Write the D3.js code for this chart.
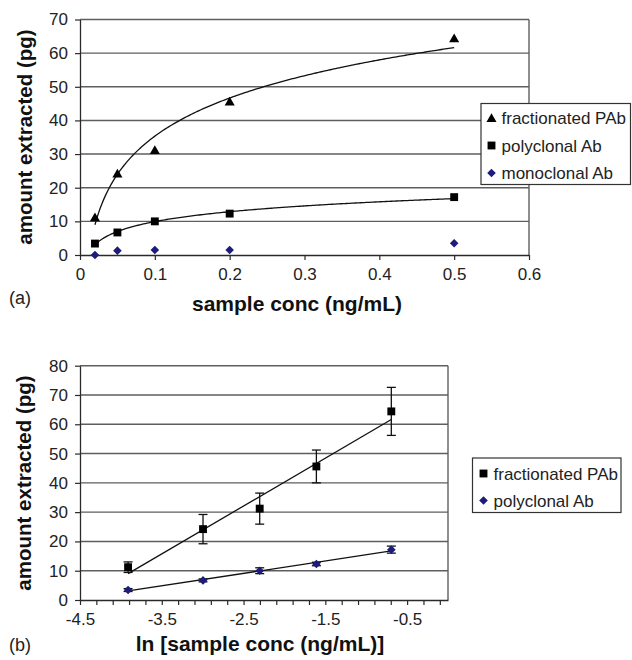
<!DOCTYPE html>
<html>
<head>
<meta charset="utf-8">
<script src="https://cdn.jsdelivr.net/npm/d3@7"></script>
<style>
  html, body { margin: 0; padding: 0; background: #fff; }
  svg, svg text { font-family: "Liberation Sans", Arial, Helvetica, sans-serif; }
  svg { display: block; }
</style>
</head>
<body>
<svg id="chart" width="632" height="660"></svg>
<script>
// Sample concentrations (ng/mL)
const conc = [0.02, 0.05, 0.1, 0.2, 0.5];
// Amount extracted (pg)
const fractionatedPAb = [11.2, 24.2, 31.2, 45.6, 64.4];
const polyclonalAb    = [3.4, 6.7, 10.0, 12.3, 17.2];
const monoclonalAb    = [0.0, 1.3, 1.5, 1.5, 3.5];
// Standard deviations used for the error bars in panel (b)
const fractionatedErr = [1.8, 5.0, 5.3, 5.6, 8.2];
const polyclonalErr   = [0.5, 0.5, 1.0, 0.6, 1.2];

// Axis ticks
const ticksA_x = [0, 0.1, 0.2, 0.3, 0.4, 0.5, 0.6];
const ticksA_y = [0, 10, 20, 30, 40, 50, 60, 70];
const ticksB_x = d3.range(23).map(k => +(-4.5 + 0.2 * k).toFixed(1));
const labelsB_x = [-4.5, -3.5, -2.5, -1.5, -0.5];
const ticksB_y = [0, 10, 20, 30, 40, 50, 60, 70, 80];

const svg = d3.select("#chart");
const FONT = '"Liberation Sans", Arial, Helvetica, sans-serif';
const GRID = "#5e5e5e";
const AXIS = "#2a2a2a";
const NAVY = "#1c1c7a";

// least-squares fit y = m*x + c
function linFit(xs, ys) {
  const mx = d3.mean(xs), my = d3.mean(ys);
  const sxy = d3.sum(xs, (x, i) => (x - mx) * (ys[i] - my));
  const sxx = d3.sum(xs, x => (x - mx) * (x - mx));
  const m = sxy / sxx;
  return { m, c: my - m * mx };
}

const lnConc = conc.map(Math.log);
const fitFrac = linFit(lnConc, fractionatedPAb);
const fitPoly = linFit(lnConc, polyclonalAb);

// square rotated 45 degrees, half-diagonal r
const diamondPath = r => `M0,${-r}L${r},0L0,${r}L${-r},0Z`;

function marker(g, shape, x, y, color) {
  let d;
  if (shape === "dia") d = diamondPath(4.3);
  else if (shape === "tri") d = d3.symbol().type(d3.symbolTriangle).size(44)();
  else d = d3.symbol().type(d3.symbolSquare).size(62)();
  g.append("path")
    .attr("d", d)
    .attr("transform", `translate(${x},${y + (shape === "tri" ? 1 : 0)})`)
    .attr("fill", color);
}

function drawFrame(g, y, yTicks, left, right, top, bottom) {
  // horizontal gridlines
  g.append("g").selectAll("line").data(yTicks.filter(v => v > 0)).join("line")
    .attr("x1", left).attr("x2", right)
    .attr("y1", d => y(d)).attr("y2", d => y(d))
    .attr("stroke", GRID).attr("stroke-width", 1.4);
  // right border
  g.append("line").attr("x1", right).attr("x2", right).attr("y1", top).attr("y2", bottom)
    .attr("stroke", GRID).attr("stroke-width", 1.4);
}

function styleAxis(a) {
  a.attr("font-family", FONT);
  a.select(".domain").attr("stroke", AXIS).attr("stroke-width", 1.3);
  a.selectAll(".tick line").attr("stroke", AXIS).attr("stroke-width", 1.2);
  a.selectAll(".tick text").attr("fill", "#222").attr("font-size", 17).attr("font-family", FONT);
}

function title(g, x, y, rot, size, txt) {
  g.append("text")
    .attr("transform", `translate(${x},${y})${rot ? " rotate(-90)" : ""}`)
    .attr("text-anchor", "middle")
    .attr("font-size", size).attr("font-weight", "bold").attr("fill", "#111")
    .text(txt);
}

// ---------- Panel (a) ----------
{
  const L = 80, R = 529, T = 19.5, B = 255;
  const x = d3.scaleLinear().domain([0, 0.6]).range([L, R]);
  const y = d3.scaleLinear().domain([0, 70]).range([B, T]);
  const g = svg.append("g");
  drawFrame(g, y, ticksA_y, L, R, T, B);

  const ax = g.append("g").attr("transform", `translate(0,${B})`)
    .call(d3.axisBottom(x).tickValues(ticksA_x).tickSize(5).tickPadding(8).tickSizeOuter(0)
      .tickFormat(d => d === 0 ? "0" : d3.format(".1f")(d)));
  styleAxis(ax);
  const ay = g.append("g").attr("transform", `translate(${L},0)`)
    .call(d3.axisLeft(y).tickValues(ticksA_y).tickSize(5).tickPadding(7).tickSizeOuter(0));
  styleAxis(ay);

  // logarithmic trendlines
  const xs = d3.range(0, 201).map(i => conc[0] + (conc[4] - conc[0]) * i / 200);
  const trend = fit => d3.line().x(d => x(d)).y(d => y(fit.m * Math.log(d) + fit.c));
  g.append("path").datum(xs).attr("d", trend(fitFrac))
    .attr("fill", "none").attr("stroke", "#111").attr("stroke-width", 1.3);
  g.append("path").datum(xs).attr("d", trend(fitPoly))
    .attr("fill", "none").attr("stroke", "#111").attr("stroke-width", 1.3);

  conc.forEach((c, i) => {
    marker(g, "tri", x(c), y(fractionatedPAb[i]), "#000");
    marker(g, "sq", x(c), y(polyclonalAb[i]), "#000");
    marker(g, "dia", x(c), y(monoclonalAb[i]), NAVY);
  });

  title(g, 297, 311, false, 21, "sample conc (ng/mL)");
  title(g, 32, 137, true, 20.5, "amount extracted (pg)");
  g.append("text").attr("x", 9).attr("y", 304).attr("font-size", 18).attr("fill", "#222").text("(a)");

  // legend
  const lg = g.append("g");
  lg.append("rect").attr("x", 481).attr("y", 103.5).attr("width", 149.5).attr("height", 81)
    .attr("fill", "#fff").attr("stroke", "#333").attr("stroke-width", 1.2);
  const items = [["tri", "#000", "fractionated PAb"], ["sq", "#000", "polyclonal Ab"], ["dia", NAVY, "monoclonal Ab"]];
  items.forEach(([s, col, label], i) => {
    const cy = 118 + i * 27.5;
    marker(lg, s, 491.5, cy, col);
    lg.append("text").attr("x", 501.5).attr("y", cy + 6).attr("font-size", 17)
      .attr("fill", "#222").text(label);
  });
}

// ---------- Panel (b) ----------
{
  const L = 80, R = 448, T = 365.7, B = 600;
  const x = d3.scaleLinear().domain([-4.5, 0]).range([L, R]);
  const y = d3.scaleLinear().domain([0, 80]).range([B, T]);
  const g = svg.append("g");
  drawFrame(g, y, ticksB_y, L, R, T, B);

  const ax = g.append("g").attr("transform", `translate(0,${B})`)
    .call(d3.axisBottom(x).tickValues(ticksB_x).tickSize(5).tickPadding(8).tickSizeOuter(0)
      .tickFormat(d => labelsB_x.includes(d) ? d3.format(".1f")(d).replace("\u2212", "-") : ""));
  styleAxis(ax);
  const ay = g.append("g").attr("transform", `translate(${L},0)`)
    .call(d3.axisLeft(y).tickValues(ticksB_y).tickSize(5).tickPadding(7).tickSizeOuter(0));
  styleAxis(ay);

  // linear fits over the measured range
  const x0 = lnConc[0], x1 = lnConc[4];
  [fitFrac, fitPoly].forEach(f => {
    g.append("line")
      .attr("x1", x(x0)).attr("y1", y(f.m * x0 + f.c))
      .attr("x2", x(x1)).attr("y2", y(f.m * x1 + f.c))
      .attr("stroke", "#111").attr("stroke-width", 1.3);
  });

  // error bars
  const errBar = (xv, v, e) => {
    const eg = g.append("g").attr("stroke", "#111").attr("stroke-width", 1.3);
    eg.append("line").attr("x1", x(xv)).attr("x2", x(xv)).attr("y1", y(v + e)).attr("y2", y(v - e));
    eg.append("line").attr("x1", x(xv) - 4.5).attr("x2", x(xv) + 4.5).attr("y1", y(v + e)).attr("y2", y(v + e));
    eg.append("line").attr("x1", x(xv) - 4.5).attr("x2", x(xv) + 4.5).attr("y1", y(v - e)).attr("y2", y(v - e));
  };
  lnConc.forEach((lx, i) => {
    errBar(lx, fractionatedPAb[i], fractionatedErr[i]);
    errBar(lx, polyclonalAb[i], polyclonalErr[i]);
  });
  lnConc.forEach((lx, i) => {
    marker(g, "sq", x(lx), y(fractionatedPAb[i]), "#000");
    marker(g, "dia", x(lx), y(polyclonalAb[i]), NAVY);
  });

  title(g, 260, 651, false, 21, "ln [sample conc (ng/mL)]");
  title(g, 31, 483, true, 20.5, "amount extracted (pg)");
  g.append("text").attr("x", 9).attr("y", 651).attr("font-size", 18).attr("fill", "#222").text("(b)");

  const lg = g.append("g");
  lg.append("rect").attr("x", 472.5).attr("y", 458).attr("width", 148.5).attr("height", 54.5)
    .attr("fill", "#fff").attr("stroke", "#333").attr("stroke-width", 1.2);
  const items = [["sq", "#000", "fractionated PAb"], ["dia", NAVY, "polyclonal Ab"]];
  items.forEach(([s, col, label], i) => {
    const cy = 473.5 + i * 27;
    marker(lg, s, 483.5, cy, col);
    lg.append("text").attr("x", 493.5).attr("y", cy + 6).attr("font-size", 17)
      .attr("fill", "#222").text(label);
  });
}
</script>
</body>
</html>
